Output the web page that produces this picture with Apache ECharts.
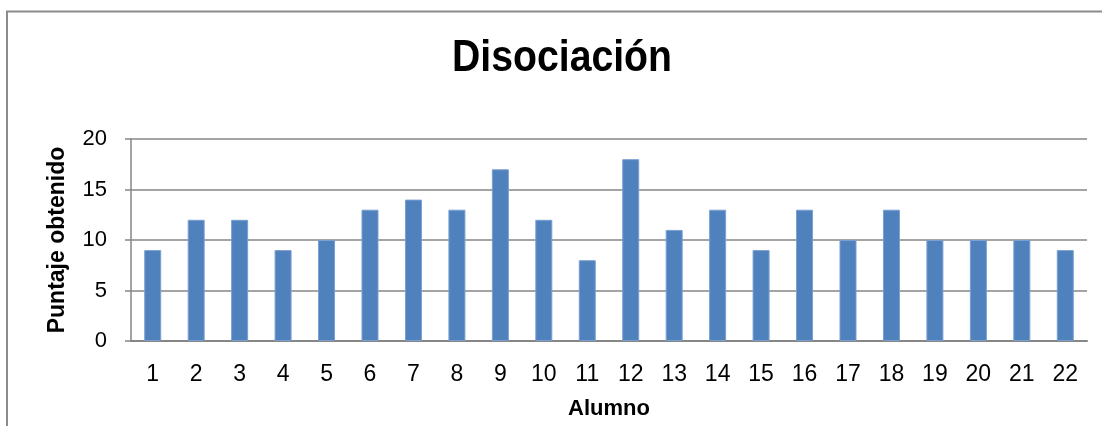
<!DOCTYPE html>
<html>
<head>
<meta charset="utf-8">
<title>Disociación</title>
<script src="https://cdn.jsdelivr.net/npm/echarts@6/dist/echarts.min.js"></script>
<style>
  html, body { margin: 0; padding: 0; background: #ffffff; }
  #chart { width: 1102px; height: 426px; }
</style>
</head>
<body>
<div id="chart"></div>
<script>
// Students (1..22) and the score each one obtained
const alumnos = ['1','2','3','4','5','6','7','8','9','10','11','12','13','14','15','16','17','18','19','20','21','22'];
const puntajes = [9, 12, 12, 9, 10, 13, 14, 13, 17, 12, 8, 18, 11, 13, 9, 13, 10, 13, 10, 10, 10, 9];
const yTicks = [0, 5, 10, 15, 20];
const titulo = 'Disociación';

const FONT = '"Liberation Sans", Arial, sans-serif';
const chart = echarts.init(document.getElementById('chart'), null, { renderer: 'canvas' });

chart.setOption({
  backgroundColor: '#ffffff',
  animation: false,
  graphic: [
    // outer chart frame (top and left edges visible)
    { type: 'polyline', shape: { points: [[7, 426], [7, 11.5], [1102, 11.5]] },
      style: { stroke: '#8c8c8c', lineWidth: 2, fill: null }, silent: true },
    // chart title, slightly condensed bold face
    { type: 'text', x: 562, y: 59, scaleX: 0.98, scaleY: 1.12, silent: true,
      style: { text: titulo, x: 0, y: 0, align: 'center', verticalAlign: 'middle',
               font: 'bold 40px ' + FONT, fill: '#000000' } }
  ],
  grid: { left: 131, top: 139, width: 956, height: 202, containLabel: false },
  xAxis: {
    type: 'category',
    data: alumnos,
    name: 'Alumno',
    nameLocation: 'middle',
    nameGap: 57,
    nameTextStyle: { fontFamily: FONT, fontSize: 22, fontWeight: 'bold', color: '#000000' },
    axisLine: { show: true, lineStyle: { color: '#868686', width: 2 } },
    axisTick: { show: false },
    axisLabel: { fontFamily: FONT, fontSize: 23, color: '#000000', margin: 22 }
  },
  yAxis: {
    type: 'value',
    min: yTicks[0],
    max: yTicks[yTicks.length - 1],
    interval: 5,
    name: 'Puntaje obtenido',
    nameLocation: 'middle',
    nameGap: 62,
    nameTextStyle: { fontFamily: FONT, fontSize: 23, fontWeight: 'bold', color: '#000000' },
    axisLine: { show: true, lineStyle: { color: '#868686', width: 1.5 } },
    axisTick: { show: true, inside: false, length: 6, lineStyle: { color: '#868686', width: 1.5 } },
    splitLine: { show: true, lineStyle: { color: '#868686', width: 1.5 } },
    axisLabel: { fontFamily: FONT, fontSize: 22, color: '#000000', margin: 24 }
  },
  series: [{
    type: 'bar',
    data: puntajes,
    barWidth: 17,
    itemStyle: { color: '#4f81bd', borderColor: '#7b9fd0', borderWidth: 1 },
    silent: true
  }]
});
</script>
</body>
</html>
